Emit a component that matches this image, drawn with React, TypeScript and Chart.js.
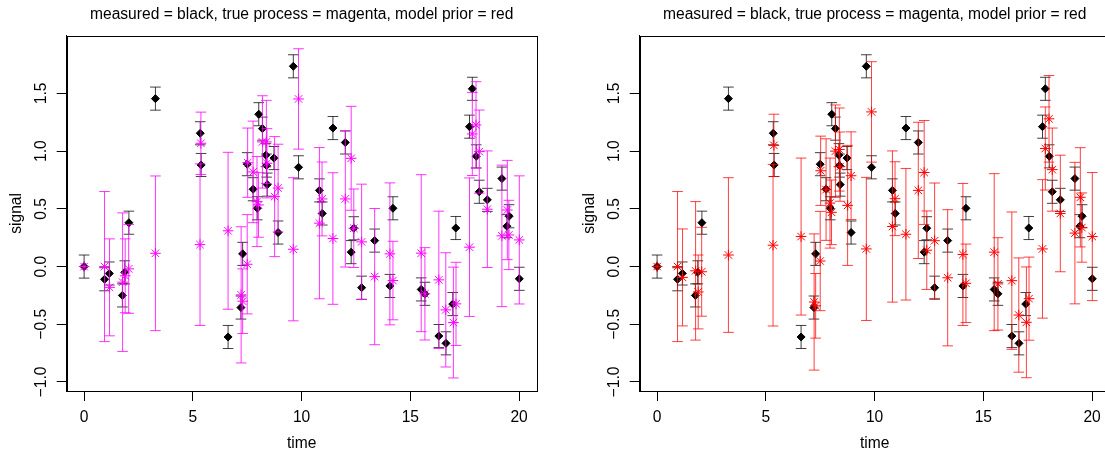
import React, { useEffect, useRef } from "react";
import { Chart, registerables } from "chart.js";

Chart.register(...registerables);

// ---------- data ----------
const measTime = [0, 0.94, 1.16, 1.76, 1.87, 2.06, 3.28, 5.34, 5.38, 6.62, 7.21, 7.29, 7.5, 7.77, 7.96, 8.03, 8.2, 8.36, 8.39, 8.42, 8.73, 8.92, 9.62, 9.86, 10.82, 10.95, 11.44, 12.01, 12.28, 12.4, 12.76, 13.36, 14.06, 14.2, 15.5, 15.67, 16.31, 16.64, 16.95, 17.09, 17.72, 17.85, 18.03, 18.17, 18.54, 19.21, 19.44, 19.54, 20.01];
const measSignal = [0, -0.11, -0.06, -0.25, -0.05, 0.38, 1.455, 1.155, 0.88, -0.61, -0.355, 0.11, 0.887, 0.67, 0.505, 1.32, 1.195, 0.965, 0.875, 0.71, 0.94, 0.295, 1.735, 0.86, 0.66, 0.46, 1.2, 1.075, 0.125, 0.332, -0.183, 0.225, -0.168, 0.505, -0.198, -0.236, -0.602, -0.665, -0.325, 0.334, 1.212, 1.54, 0.955, 0.648, 0.578, 0.762, 0.35, 0.436, -0.106];
const measSd = 0.1;

const procTime = [0, 0.94, 1.17, 1.77, 1.89, 2.05, 3.28, 5.33, 5.37, 6.62, 7.22, 7.29, 7.5, 7.52, 7.77, 7.95, 8.02, 8.2, 8.38, 8.41, 8.76, 8.92, 9.62, 9.86, 10.82, 10.94, 11.44, 12.01, 12.28, 12.4, 12.76, 13.36, 14.06, 14.2, 15.5, 15.67, 16.31, 16.63, 16.98, 17.1, 17.72, 17.85, 18.02, 18.17, 18.54, 19.21, 19.46, 19.53, 20.01];
const trueSignal = [0, 0.0, -0.18, -0.135, -0.08, -0.02, 0.115, 0.19, 1.068, 0.31, -0.245, -0.3, 0.02, 0.9, 0.82, 0.563, 0.534, 1.08, 1.08, 0.895, 0.606, 0.68, 0.15, 1.452, 0.376, 0.586, 0.243, 0.586, 0.938, 0.332, 0.214, -0.087, 0.11, -0.121, 0.116, -0.236, -0.115, -0.375, -0.485, -0.323, 0.168, 1.149, 1.227, 0.996, 0.497, 0.266, 0.49, 0.274, 0.231];
const priorSignal = [0, 0.0, -0.094, -0.037, -0.22, -0.045, 0.1, 0.185, 1.05, 0.26, -0.307, -0.34, 0.048, 0.83, 0.667, 0.55, 0.47, 1.0, 1.014, 0.866, 0.53, 0.787, 0.153, 1.34, 0.347, 0.588, 0.28, 0.66, 0.815, 0.142, 0.224, -0.097, 0.105, -0.145, 0.125, -0.15, -0.122, -0.42, -0.483, -0.278, 0.153, 1.023, 1.28, 0.84, 0.46, 0.29, 0.6, 0.338, 0.26];
const procSd = [0, 0.65, 0.42, 0.6, 0.32, 0.385, 0.67, 0.7, 0.27, 0.68, 0.59, 0.28, 0.43, 0.3, 0.44, 0.39, 0.28, 0.4, 0.36, 0.3, 0.52, 0.38, 0.62, 0.435, 0.655, 0.32, 0.57, 0.59, 0.45, 0.34, 0.5, 0.59, 0.615, 0.34, 0.68, 0.4, 0.595, 0.495, 0.48, 0.36, 0.6, 0.36, 0.375, 0.36, 0.505, 0.613, 0.43, 0.3, 0.555];

const xTicks = [0, 5, 10, 15, 20];
const xTickLabels = ["0", "5", "10", "15", "20"];
const yTicks = [-1, -0.5, 0, 0.5, 1, 1.5];
const yTickLabels = ["\u22121.0", "\u22120.5", "0.0", "0.5", "1.0", "1.5"];
const titleText = "measured = black, true process = magenta, model prior = red";
const xTitle = "time";
const yTitle = "signal";

// ---------- styling ----------
const FONT = "'Liberation Sans', Arial, Helvetica, sans-serif";
const FS = 15.6;
const CAP = 5.3;
const X_MIN = -0.8;
const X_MAX = 20.81;
const Y_MIN = -1.078;
const Y_MAX = 2.0;

const errorBarPlugin = {
  id: "errbars",
  beforeDatasetDraw(chart: any, args: any) {
    const ds = chart.data.datasets[args.index];
    const errs: number[] | undefined = ds.errs;
    if (!errs) return;
    const xs = chart.scales.x;
    const ys = chart.scales.y;
    const ctx = chart.ctx;
    ctx.save();
    ctx.strokeStyle = ds.barColor;
    ctx.lineWidth = 1;
    const seg = (a: number, b: number, c: number, d: number) => {
      ctx.beginPath();
      ctx.moveTo(a, b);
      ctx.lineTo(c, d);
      ctx.stroke();
    };
    ds.data.forEach((p: any, i: number) => {
      const e = errs[i];
      if (!e) return;
      const px = xs.getPixelForValue(p.x);
      const y1 = ys.getPixelForValue(p.y - e);
      const y2 = ys.getPixelForValue(p.y + e);
      seg(px, y1, px, y2);
      seg(px - CAP, y1, px + CAP, y1);
      seg(px - CAP, y2, px + CAP, y2);
    });
    ctx.restore();
  },
};

const framePlugin = {
  id: "frame",
  afterDraw(chart: any) {
    const a = chart.chartArea;
    const ctx = chart.ctx;
    ctx.save();
    ctx.strokeStyle = "#000";
    ctx.lineWidth = 1;
    ctx.strokeRect(Math.round(a.left) + 0.5, Math.round(a.top) + 0.5, Math.round(a.right - a.left), Math.round(a.bottom - a.top));
    ctx.restore();
  },
};

function Panel({ procY, color, barColor }: { procY: number[]; color: string; barColor: string }) {
  const ref = useRef<HTMLCanvasElement | null>(null);
  useEffect(() => {
    if (!ref.current) return;
    const font = { family: FONT, size: FS, weight: "normal" as const };
    const chart = new Chart(ref.current, {
      type: "scatter",
      data: {
        datasets: [
          {
            label: "process",
            data: procTime.map((t, i) => ({ x: t, y: procY[i] })),
            pointStyle: "star",
            pointRadius: 5.3,
            borderColor: color,
            backgroundColor: color,
            borderWidth: 1,
            order: 1,
            errs: procSd,
            barColor,
          } as any,
          {
            label: "measured",
            data: measTime.map((t, i) => ({ x: t, y: measSignal[i] })),
            pointStyle: "rectRot",
            pointRadius: 4,
            borderColor: "#000",
            backgroundColor: "#000",
            borderWidth: 1,
            order: 2,
            errs: measTime.map(() => measSd),
            barColor: "rgba(0,0,0,0.75)",
          } as any,
        ],
      },
      options: {
        responsive: false,
        animation: false,
        events: [],
        layout: { padding: { top: 0, right: 36.3, bottom: 0, left: 0 } },
        plugins: {
          legend: { display: false },
          tooltip: { enabled: false },
          title: {
            display: true,
            text: titleText,
            color: "#000",
            font,
            fullSize: false,
            padding: { top: 5.6, bottom: 11.4 },
          },
        },
        scales: {
          x: {
            type: "linear",
            min: X_MIN,
            max: X_MAX,
            afterBuildTicks: (s: any) => {
              s.ticks = xTicks.map((v) => ({ value: v }));
            },
            afterFit: (s: any) => {
              s.height = 61;
            },
            grid: { drawOnChartArea: false, drawTicks: true, tickLength: 10, color: "#000", lineWidth: 1 },
            border: { display: true, color: "#000", width: 1 },
            ticks: {
              autoSkip: false,
              minRotation: 0,
              maxRotation: 0,
              padding: 7.5,
              color: "#000",
              font,
              callback: (_v: any, i: number) => xTickLabels[i],
            },
            title: { display: true, text: xTitle, color: "#000", font, padding: { top: 0, bottom: -1 } },
          },
          y: {
            type: "linear",
            min: Y_MIN,
            max: Y_MAX,
            afterBuildTicks: (s: any) => {
              s.ticks = yTicks.map((v) => ({ value: v }));
            },
            afterFit: (s: any) => {
              s.width = 66.7;
            },
            grid: { drawOnChartArea: false, drawTicks: true, tickLength: 10, color: "#000", lineWidth: 1 },
            border: { display: true, color: "#000", width: 1 },
            ticks: {
              autoSkip: false,
              minRotation: 90,
              maxRotation: 90,
              crossAlign: "center",
              padding: 0,
              color: "#000",
              font,
              callback: (_v: any, i: number) => yTickLabels[i],
            },
            title: { display: true, text: yTitle, color: "#000", font, padding: { top: 7.5, bottom: 0 } },
          },
        },
      } as any,
      plugins: [errorBarPlugin, framePlugin],
    });
    return () => chart.destroy();
  }, [procY, color, barColor]);
  return <canvas ref={ref} width={573} height={452} style={{ display: "block" }} />;
}

export default function App() {
  return (
    <div style={{ position: "fixed", left: 0, top: 0, width: 1105, height: 452, overflow: "hidden", background: "#fff" }}>
      <div style={{ position: "absolute", left: 0, top: 0 }}>
        <Panel procY={trueSignal} color="#FF00FF" barColor="rgba(255,0,255,0.8)" />
      </div>
      <div style={{ position: "absolute", left: 573, top: 0 }}>
        <Panel procY={priorSignal} color="#FF0000" barColor="rgba(255,0,0,0.75)" />
      </div>
    </div>
  );
}
